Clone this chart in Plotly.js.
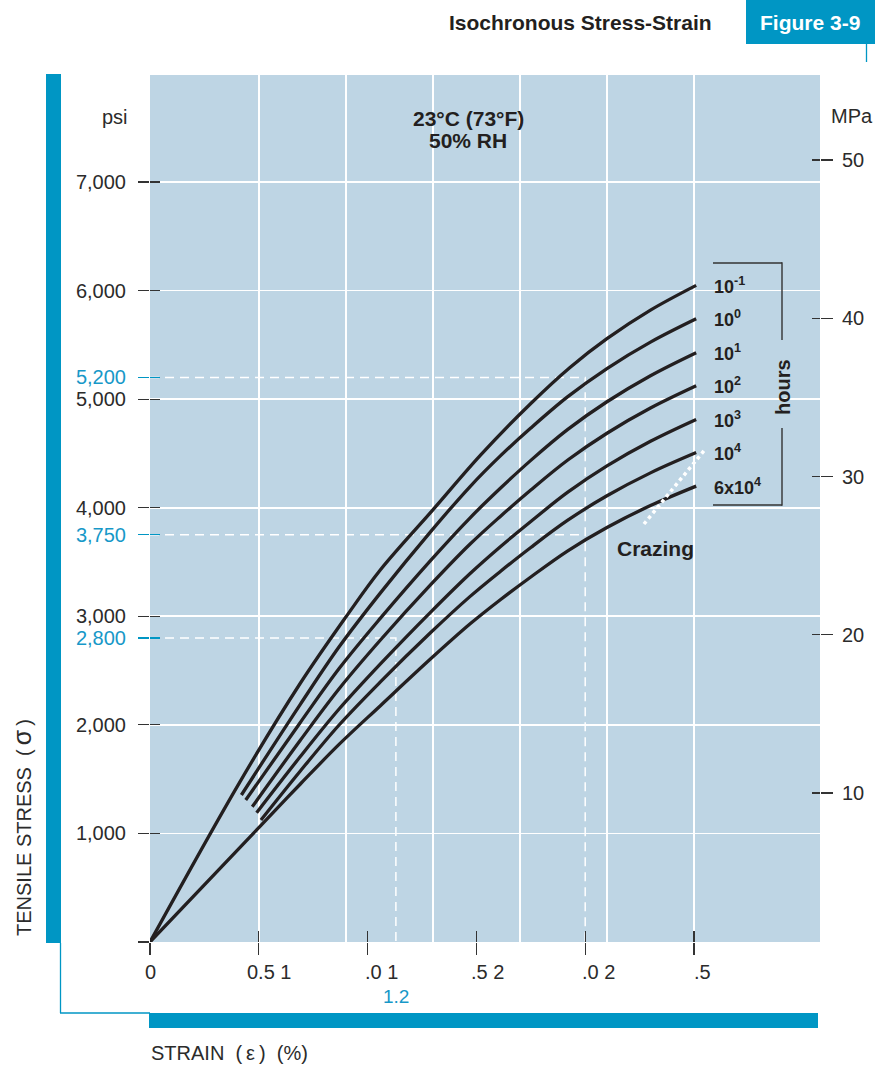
<!DOCTYPE html>
<html>
<head>
<meta charset="utf-8">
<script src="https://cdn.plot.ly/plotly-3.0.1.min.js"></script>
<style>html,body{margin:0;padding:0;background:#fff;}#chart{width:875px;height:1066px;}</style>
</head>
<body>
<div id="chart"></div>
<script>
// ---------- data ----------
const curveNames = ['10^-1 h', '10^0 h', '10^1 h', '10^2 h', '10^3 h', '10^4 h', '6x10^4 h'];
const curveLabels = ['10<sup>-1</sup>', '10<sup>0</sup>', '10<sup>1</sup>', '10<sup>2</sup>', '10<sup>3</sup>', '10<sup>4</sup>', '6x10<sup>4</sup>'];

// strain (%) / tensile stress (psi) per isochronous curve
const strainH01 = [0, 0.41, 0.69, 0.90, 1.06, 1.30, 1.52, 1.75, 1.93, 2.10, 2.30, 2.51];
const stressH01 = [0, 1464, 2381, 2993, 3431, 3980, 4486, 4960, 5292, 5557, 5820, 6048];

const strainH1 = [0.42, 0.69, 0.87, 1.06, 1.29, 1.47, 1.61, 1.75, 1.92, 2.10, 2.30, 2.51];
const stressH1 = [1354, 2187, 2721, 3218, 3780, 4193, 4477, 4734, 5023, 5282, 5525, 5740];

const strainH10 = [0.44, 0.69, 0.87, 1.06, 1.29, 1.47, 1.61, 1.75, 1.92, 2.10, 2.30, 2.51];
const stressH10 = [1308, 2020, 2521, 2985, 3515, 3905, 4179, 4436, 4721, 4976, 5216, 5428];

const strainH100 = [0.47, 0.69, 0.87, 1.06, 1.29, 1.47, 1.61, 1.75, 1.92, 2.10, 2.30, 2.51];
const stressH100 = [1246, 1856, 2335, 2784, 3291, 3663, 3920, 4163, 4439, 4686, 4918, 5123];

const strainH1000 = [0.49, 0.69, 0.87, 1.06, 1.29, 1.47, 1.61, 1.75, 1.92, 2.10, 2.30, 2.51];
const stressH1000 = [1191, 1706, 2148, 2564, 3039, 3392, 3641, 3873, 4143, 4385, 4612, 4813];

const strainH10000 = [0.51, 0.69, 0.87, 1.06, 1.29, 1.47, 1.61, 1.75, 1.92, 2.10, 2.30, 2.51];
const stressH10000 = [1124, 1573, 2001, 2398, 2850, 3181, 3413, 3634, 3885, 4110, 4321, 4508];

const strainH60000 = [0, 0.51, 0.69, 0.87, 1.06, 1.29, 1.47, 1.61, 1.75, 1.92, 2.10, 2.30, 2.51];
const stressH60000 = [0, 1074, 1453, 1822, 2179, 2608, 2928, 3152, 3362, 3603, 3818, 4020, 4199];

const crazeStrain = [2.27, 2.555];
const crazeStress = [3850, 4547];

// reference (dashed) read-offs
const refStress = [5200, 3750, 2800];
const refStressText = ['5,200', '3,750', '2,800'];
const refStrain = [2.0, 2.0, 1.13];
const refStrainText = '1.2';

// axes ticks
const xTickVals = [0, 0.5, 1.0, 1.5, 2.0, 2.5];
const xTickText = ['0', '0.5 1', '.0 1', '.5 2', '.0 2', '.5'];
const xGridVals = [0.5, 0.9, 1.3, 1.7, 2.1, 2.5];
const yTickVals = [0, 1000, 2000, 3000, 4000, 5000, 6000, 7000];
const yTickText = ['', '1,000', '2,000', '3,000', '4,000', '5,000', '6,000', '7,000'];
const mpaTickVals = [10, 20, 30, 40, 50];
const mpaTickText = ['10', '20', '30', '40', '50'];

// ---------- styling / layout ----------
const TEAL = '#0096c4';
const BLUE_TXT = '#1798c8';
const INK = '#231f20';
const TXT = '#2b2b2b';
const FONT = 'Liberation Sans, Arial, Helvetica, sans-serif';
const NB = '\u00a0';
const TH = '\u2009';

const W = 875, H = 1066, L = 150, R = 820, T = 75, B = 942;
const X = px => (px - L) / (R - L);
const Y = py => (B - py) / (B - T);

const xRange = [0, (R - L) / 217.6];
const yRange = [0, 7985.5];
const mpaRange = [0.585, 55.371];

const strains = [strainH01, strainH1, strainH10, strainH100, strainH1000, strainH10000, strainH60000];
const stresses = [stressH01, stressH1, stressH10, stressH100, stressH1000, stressH10000, stressH60000];

const traces = [];

// dummy invisible traces so that every overlay axis gets drawn
[['x2', 'y'], ['x3', 'y'], ['x', 'y2'], ['x', 'y3'], ['x', 'y4'], ['x', 'y5'], ['x', 'y6'], ['x', 'y7']].forEach(p => {
  traces.push({x: [0], y: [0], xaxis: p[0], yaxis: p[1], mode: 'markers', marker: {opacity: 0, size: 1}, hoverinfo: 'skip', showlegend: false});
});

// dashed read-off lines (under curves)
const dx = [], dy = [];
refStress.forEach((s, i) => {
  dx.push(0, refStrain[i]); dy.push(s, s);
  if (i !== 1) { dx.push(refStrain[i]); dy.push(0); }
  dx.push(null); dy.push(null);
});
traces.push({x: dx, y: dy, mode: 'lines', line: {color: '#ffffff', width: 1.5, dash: '9px,6px'}, hoverinfo: 'skip', connectgaps: false});

strains.forEach((xs, i) => {
  traces.push({
    name: curveNames[i], x: xs, y: stresses[i], mode: 'lines',
    line: {color: INK, width: 3.3, shape: 'spline', smoothing: 1},
    hoverinfo: 'skip'
  });
});

traces.push({x: crazeStrain, y: crazeStress, mode: 'lines', line: {color: '#ffffff', width: 3.5, dash: 'dot'}, hoverinfo: 'skip'});

const annotations = [];
// curve labels
curveLabels.forEach((t, i) => {
  const ys = stresses[i];
  annotations.push({xref: 'x', yref: 'y', x: 2.583, y: ys[ys.length - 1], xanchor: 'left', yanchor: 'middle',
    text: '<b>' + t + '</b>', showarrow: false, font: {family: FONT, size: 18, color: INK}});
});
// x tick labels
const xShift = [0, -14, -5, -7, -5, -2];
xTickText.forEach((t, i) => {
  annotations.push({xref: 'x', yref: 'paper', x: xTickVals[i], y: Y(972), xanchor: i === 0 ? 'center' : 'left', yanchor: 'middle',
    xshift: xShift[i], text: t, showarrow: false, font: {family: FONT, size: 20, color: TXT}});
});
annotations.push({xref: 'x', yref: 'paper', x: refStrain[2], y: Y(996), xanchor: 'center', yanchor: 'middle',
  text: refStrainText, showarrow: false, font: {family: FONT, size: 19, color: BLUE_TXT}});

const pa = (px, py, text, opts) => Object.assign({xref: 'paper', yref: 'paper', x: X(px), y: Y(py), text: text,
  showarrow: false, xanchor: 'center', yanchor: 'middle', font: {family: FONT, size: 20, color: TXT}}, opts || {});

annotations.push(pa(130, 117, 'psi', {xanchor: 'right'}));
annotations.push(pa(829, 116, 'MPa', {xanchor: 'left'}));
annotations.push(pa(468, 118, '<b>23°C (73°F)</b>', {font: {family: FONT, size: 21, color: INK}}));
annotations.push(pa(468, 141, '<b>50% RH</b>', {font: {family: FONT, size: 21, color: INK}}));
annotations.push(pa(655, 548, '<b>Crazing</b>', {font: {family: FONT, size: 21, color: INK}}));
annotations.push(pa(783, 387, '<b>hours</b>', {textangle: -90, font: {family: FONT, size: 20, color: INK}}));
annotations.push(pa(714, 22, '<b>Isochronous Stress-Strain</b>', {xanchor: 'right', font: {family: FONT, size: 21, color: INK}}));
annotations.push(pa(810, 22, '<b>Figure 3-9</b>', {font: {family: FONT, size: 21, color: '#ffffff'}}));
annotations.push(pa(149, 1053, 'STRAIN' + NB + NB + '(' + TH + 'ε' + TH + ')' + NB + NB + '(%)', {xanchor: 'left', font: {family: FONT, size: 20, color: TXT}}));
annotations.push(pa(22, 828, 'TENSILE STRESS' + NB + NB + '(' + TH + '<span style="font-size:25px">σ</span>' + TH + ')', {textangle: -90, font: {family: FONT, size: 20, color: TXT}}));

const shapes = [];
const rect = (x0, y0, x1, y1, color) => ({type: 'rect', xref: 'paper', yref: 'paper', x0: X(x0), x1: X(x1), y0: Y(y0), y1: Y(y1),
  fillcolor: color, line: {width: 0}, layer: 'above'});
const seg = (x0, y0, x1, y1, color, w) => ({type: 'line', xref: 'paper', yref: 'paper', x0: X(x0), x1: X(x1), y0: Y(y0), y1: Y(y1),
  line: {color: color, width: w}, layer: 'above'});
shapes.push(rect(46, 74, 61, 943, TEAL));
shapes.push(seg(60.5, 943, 60.5, 1013, TEAL, 1.3));
shapes.push(seg(60, 1013, 150, 1013, TEAL, 1.3));
shapes.push(rect(149, 1013, 818, 1028, TEAL));
shapes.push(rect(746, 0, 875, 44, TEAL));
shapes.push(seg(866.5, 43, 866.5, 62, TEAL, 1.3));
// bracket for "hours"
shapes.push(seg(713, 263, 782, 263, '#333', 1.4));
shapes.push(seg(782, 262.3, 782, 340, '#333', 1.4));
shapes.push(seg(782, 428, 782, 505.7, '#333', 1.4));
shapes.push(seg(713, 505, 782, 505, '#333', 1.4));

const TW = 1.2;
const tickBase = {showgrid: false, zeroline: false, showline: false, fixedrange: true};
const layout = {
  width: W, height: H,
  margin: {l: L, r: W - R, t: T, b: H - B, pad: 0},
  paper_bgcolor: '#ffffff', plot_bgcolor: '#bed5e4',
  showlegend: false,
  font: {family: FONT, size: 20, color: TXT},
  xaxis: Object.assign({}, tickBase, {range: xRange, tickvals: xGridVals, showgrid: true, gridcolor: '#ffffff', gridwidth: 1.6, ticks: '', showticklabels: false}),
  xaxis2: Object.assign({}, tickBase, {overlaying: 'x', anchor: 'y', range: xRange, tickvals: xTickVals, ticks: 'outside', ticklen: 12, tickwidth: TW, tickcolor: '#333', showticklabels: false}),
  xaxis3: Object.assign({}, tickBase, {overlaying: 'x', anchor: 'y', range: xRange, tickvals: xTickVals, ticks: 'inside', ticklen: 11, tickwidth: TW, tickcolor: '#333', showticklabels: false}),
  yaxis: Object.assign({}, tickBase, {range: yRange, tickvals: yTickVals.slice(1), showgrid: true, gridcolor: '#ffffff', gridwidth: 1.6, ticks: '', showticklabels: false}),
  yaxis3: Object.assign({}, tickBase, {overlaying: 'y', side: 'left', anchor: 'x', range: yRange, tickvals: yTickVals, ticktext: yTickText, ticks: 'outside', ticklen: 11, tickwidth: TW, tickcolor: '#333', tickfont: {family: FONT, size: 20, color: TXT}, ticklabelstandoff: 8}),
  yaxis4: Object.assign({}, tickBase, {overlaying: 'y', side: 'left', anchor: 'x', range: yRange, tickvals: yTickVals, ticks: 'inside', ticklen: 10, tickwidth: TW, tickcolor: '#333', showticklabels: false}),
  yaxis5: Object.assign({}, tickBase, {overlaying: 'y', side: 'left', anchor: 'x', range: yRange, tickvals: refStress, ticktext: refStressText, ticks: 'outside', ticklen: 11, tickwidth: TW, tickcolor: TEAL, tickfont: {family: FONT, size: 20, color: BLUE_TXT}, ticklabelstandoff: 8}),
  yaxis6: Object.assign({}, tickBase, {overlaying: 'y', side: 'left', anchor: 'x', range: yRange, tickvals: refStress, ticks: 'inside', ticklen: 10, tickwidth: TW, tickcolor: TEAL, showticklabels: false}),
  yaxis2: Object.assign({}, tickBase, {overlaying: 'y', side: 'right', anchor: 'x', range: mpaRange, tickvals: mpaTickVals, ticktext: mpaTickText, ticks: 'outside', ticklen: 12, tickwidth: TW, tickcolor: '#333', tickfont: {family: FONT, size: 20, color: TXT}, ticklabelstandoff: 5}),
  yaxis7: Object.assign({}, tickBase, {overlaying: 'y', side: 'right', anchor: 'x', range: mpaRange, tickvals: mpaTickVals, ticks: 'inside', ticklen: 8, tickwidth: TW, tickcolor: '#333', showticklabels: false}),
  annotations: annotations,
  shapes: shapes
};

Plotly.newPlot('chart', traces, layout, {staticPlot: true, displayModeBar: false});
</script>
</body>
</html>
